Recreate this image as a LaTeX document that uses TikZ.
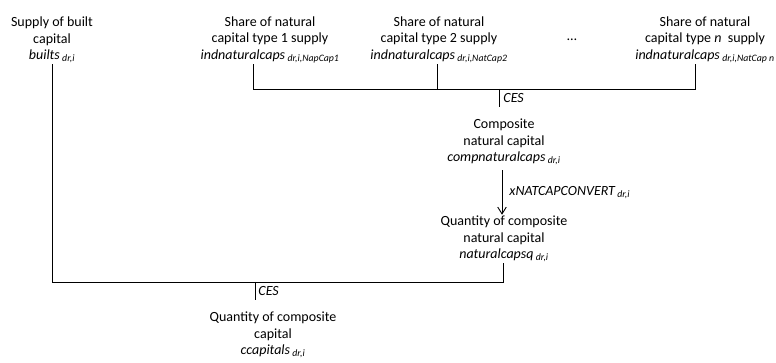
\documentclass[tikz,border=0pt]{standalone}
\usepackage{fontspec}
\setmainfont{Carlito}
\usetikzlibrary{arrows.meta,positioning,calc}
\definecolor{ink}{HTML}{000000}
\newcommand{\sub}[1]{\,\textsubscript{\textit{#1}}}
\tikzset{
  every node/.append style = {text=ink},
  % --- quantities -----------------------------------------------------------
  qty/.style     = {font=\fontsize{14}{16.5}\selectfont, align=center, inner sep=1pt},
  % --- relations ------------------------------------------------------------
  nest/.style    = {draw=ink, line width=0.9pt},
  convert/.style = {draw=ink, line width=0.9pt, -{Straight Barb[length=2.4mm,width=3mm]}},
  % --- labels ---------------------------------------------------------------
  lbl/.style     = {font=\fontsize{14}{16}\selectfont\itshape, inner sep=1pt},
}
\begin{document}
\begin{tikzpicture}[x=1pt, y=-1pt]
\useasboundingbox (0,0) rectangle (776,363);

% ==================== inputs ==============================================
\node[qty] (built) at (52,40) {Supply of built\\capital\\\textit{builts}\sub{dr,i}};
\node[qty] (nat1)  at (270,40) {Share of natural\\capital type 1 supply\\\textit{indnaturalcaps}\sub{dr,i,NapCap1}};
\node[qty] (nat2)  at (439,40) {Share of natural\\capital type 2 supply\\\textit{indnaturalcaps}\sub{dr,i,NatCap2}};
\node[qty] (dots)  at (572,40) {\dots};
\node[qty] (natn)  at (705,40) {Share of natural\\capital type \textit{n}~ supply\\\textit{indnaturalcaps}\sub{dr,i,NatCap n}};

% ==================== natural capital nest ================================
\coordinate (j1) at (253,89);
\coordinate (j2) at (437,89);
\coordinate (jn) at (695,89);
\coordinate (jc) at (499,89);

\draw[nest] (nat1.south -| j1) -- (j1) -- (jn) -- (natn.south -| jn);
\draw[nest] (nat2.south -| j2) -- (j2);

\node[qty] (comp) at (504,142) {Composite\\natural capital\\\textit{compnaturalcaps}\sub{dr,i}};
\draw[nest] (jc) -- ++(0,18) node[lbl, midway, anchor=west, xshift=3pt] (ces1) {CES};

\node[qty] (natq) at (504,239) {Quantity of composite\\natural capital\\\textit{naturalcapsq}\sub{dr,i}};
\draw[convert] (comp.south -| 502,0) ++(0,4) -- (natq.north -| 502,0)
  node[lbl, midway, anchor=west, xshift=6pt] (xconv) {xNATCAPCONVERT\sub{dr,i}};

% ==================== capital nest ========================================
\coordinate (kl) at (52,282);
\coordinate (kr) at (503,282);
\coordinate (kc) at (255,282);

\draw[nest] (built.south) -- (kl) -- (kr) -- (natq.south -| kr);

\node[qty] (ccap) at (273,335) {Quantity of composite\\capital\\\textit{ccapitals}\sub{dr,i}};
\draw[nest] (kc) -- ++(0,18) node[lbl, midway, anchor=west, xshift=2pt] (ces2) {CES};

\end{tikzpicture}
\end{document}
